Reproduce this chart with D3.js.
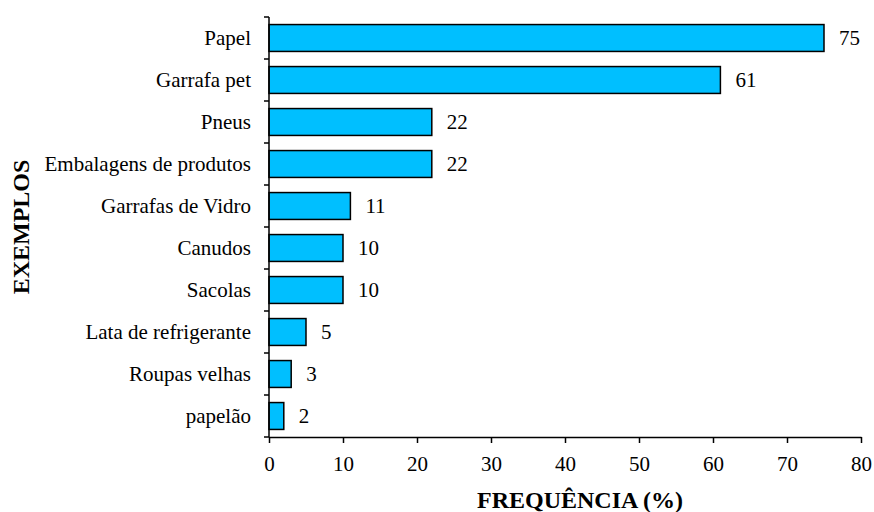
<!DOCTYPE html>
<html><head><meta charset="utf-8">
<script src="https://cdn.jsdelivr.net/npm/d3@7"></script>
<style>body{margin:0;background:#fff}svg{display:block}</style>
</head><body><svg id="c" width="874" height="512"></svg>
<script>
const categories = ["Papel","Garrafa pet","Pneus","Embalagens de produtos","Garrafas de Vidro","Canudos","Sacolas","Lata de refrigerante","Roupas velhas","papelão"];
const values = [75,61,22,22,11,10,10,5,3,2];
const xTicks = [0,10,20,30,40,50,60,70,80];
const xTitle = "FREQUÊNCIA (%)";
const yTitle = "EXEMPLOS";

(function(){
const FF = "Liberation Serif";
const svg = d3.select("#c");
const L = 269, R = 861, T = 17, B = 437;
const x = d3.scaleLinear().domain([0,80]).range([L,R]);
const y = d3.scaleBand().domain(categories).range([T,B]).paddingInner(0.36).paddingOuter(0.18);

svg.selectAll("rect.bar").data(values).join("rect")
  .attr("x", x(0)).attr("y", (d,i)=>y(categories[i]))
  .attr("width", d=>x(d)-x(0)).attr("height", y.bandwidth())
  .attr("fill","#00BFFF").attr("stroke","#000").attr("stroke-width",1.5);

svg.selectAll("text.val").data(values).join("text")
  .style("font-family",FF).style("font-size","21px")
  .attr("x", d=>x(d)+15).attr("y",(d,i)=>y(categories[i])+y.bandwidth()/2)
  .attr("dy","0.35em").text(d=>d);

svg.append("line").attr("x1",L).attr("x2",L).attr("y1",T).attr("y2",B).attr("stroke","#000").attr("stroke-width",1.5);
const step = (B-T)/categories.length;
d3.range(categories.length+1).forEach(i=>{
  svg.append("line").attr("x1",L-5).attr("x2",L).attr("y1",T+i*step).attr("y2",T+i*step).attr("stroke","#000").attr("stroke-width",1.5);
});
svg.selectAll("text.cat").data(categories).join("text")
  .style("font-family",FF).style("font-size","21px")
  .attr("x",251).attr("y",d=>y(d)+y.bandwidth()/2).attr("dy","0.35em")
  .attr("text-anchor","end").text(d=>d);

const xa = svg.append("g").attr("transform",`translate(0,${B})`)
  .call(d3.axisBottom(x).tickValues(xTicks).tickSize(6).tickPadding(13).tickSizeOuter(0));
xa.select(".domain").attr("stroke-width",1.5);
xa.selectAll(".tick line").attr("stroke-width",1.5);
xa.selectAll("text").style("font-family",FF).style("font-size","21px").attr("fill","#000");

svg.append("text").style("font-family",FF).style("font-size","24px").style("font-weight","bold")
  .attr("x",580).attr("y",508).attr("text-anchor","middle").text(xTitle);
svg.append("text").style("font-family",FF).style("font-size","24px").style("font-weight","bold")
  .attr("transform",`translate(29,${(T+B)/2}) rotate(-90)`).attr("text-anchor","middle").text(yTitle);
})();
</script></body></html>
